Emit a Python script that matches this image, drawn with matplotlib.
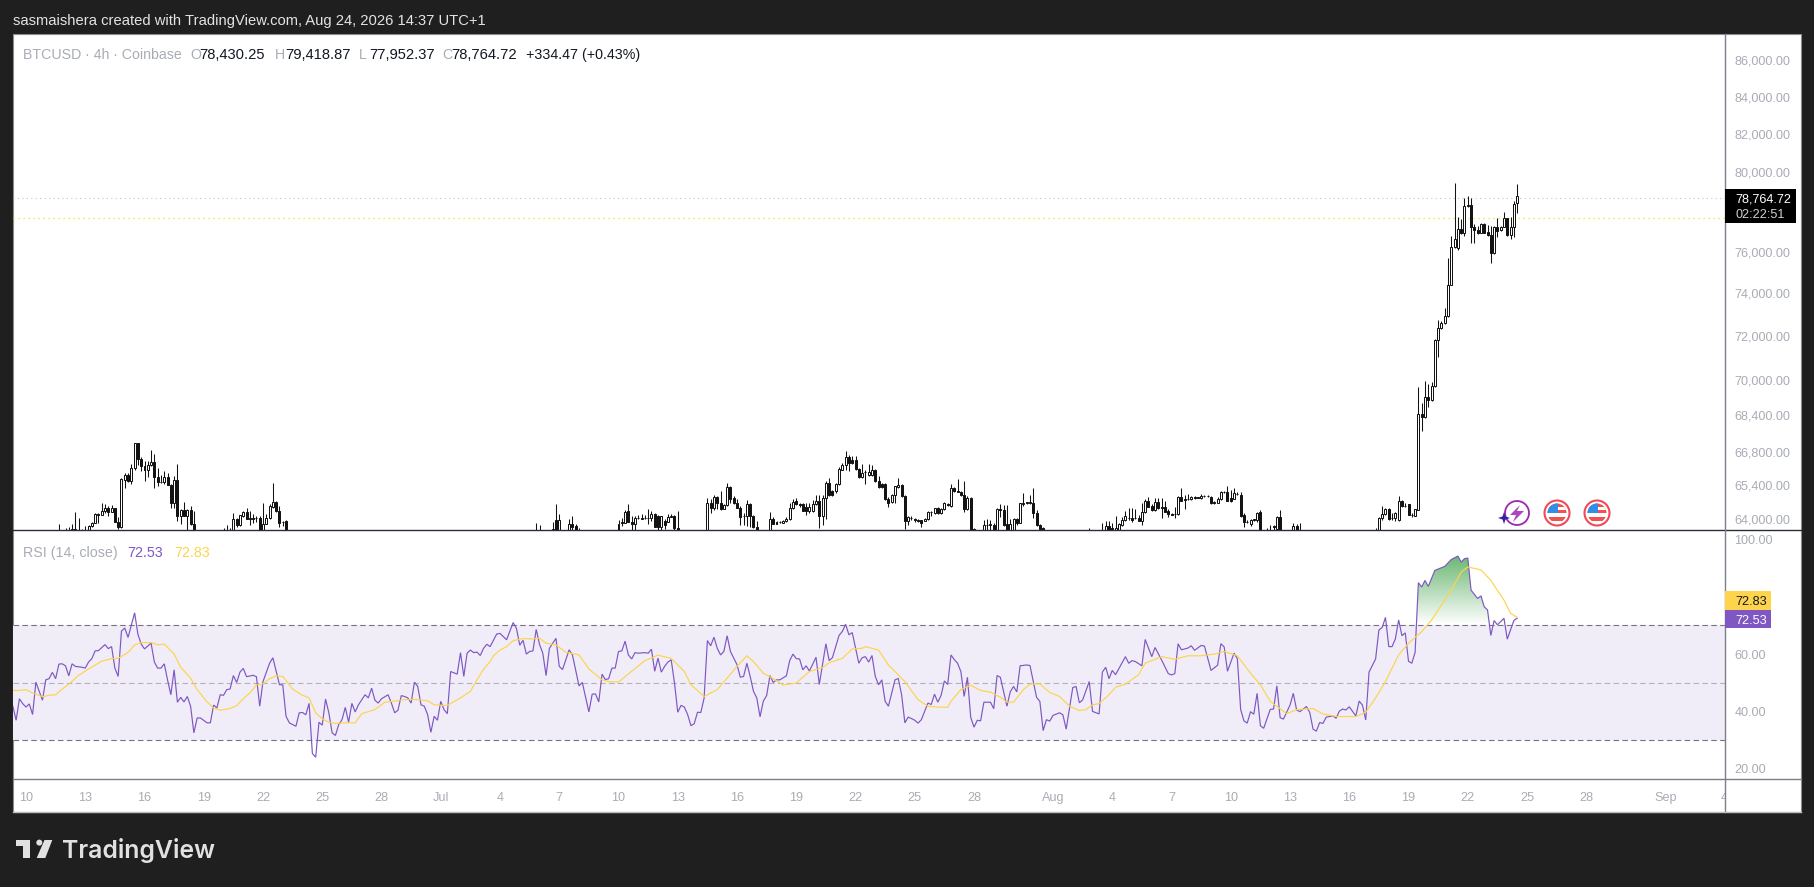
import numpy as np
import matplotlib
matplotlib.use("Agg")
import matplotlib.pyplot as plt
from matplotlib.patches import Rectangle, Circle, Polygon, PathPatch
from matplotlib.path import Path

plt.rcParams['font.family'] = ['Liberation Sans', 'DejaVu Sans']

# ---------- chart values: 4h bar number counted from 10 Jun ----------
bars = [
10,11,12,13,14,15,16,17,18,19,
20,21,22,23,24,25,26,27,28,29,
30,31,32,33,34,35,36,37,38,39,
40,41,42,43,44,45,46,47,48,49,
50,51,60,61,62,63,64,65,66,67,
68,69,70,71,72,73,74,75,76,77,
78,79,155,156,160,161,162,165,166,167,
168,180,181,182,183,184,185,186,187,188,
189,190,191,192,193,194,195,196,197,198,
207,208,209,210,211,212,213,214,215,216,
217,218,219,220,221,222,226,227,228,229,
230,231,232,233,234,235,236,237,238,239,
240,241,242,243,244,245,246,247,248,249,
250,251,252,253,254,255,256,257,258,259,
260,261,262,263,264,265,266,267,268,269,
270,271,272,273,274,275,276,277,278,279,
280,281,282,283,284,285,286,287,288,291,
292,293,294,295,296,297,298,299,300,301,
302,303,304,305,306,307,308,309,323,327,
328,329,330,331,332,333,334,335,336,337,
338,339,340,341,342,343,344,345,346,347,
348,349,350,351,352,353,354,355,356,357,
358,359,360,361,362,363,364,365,366,367,
368,369,370,371,372,373,374,375,377,378,
379,380,381,384,385,386,387,389,409,410,
411,412,413,414,415,416,417,418,419,420,
421,422,423,424,425,426,427,428,429,430,
431,432,433,434,435,436,437,438,439,440,
441,442,443,444,445,446,447,448,449,450,
451,452,453]

opens = [
63450,63450,63450,63450,63450,63578,63480,63450,63450,63450,
63676,63831,64170,64156,64325,64424,64283,64424,63860,63648,
65594,65819,65552,66116,67173,66496,66214,66017,66242,66369,
65721,65523,65523,65735,65410,64663,65622,64113,64353,64113,
64353,63789,63450,63450,63450,63450,64000,63719,64099,64268,
64000,64029,64043,64043,63420,63789,64029,64466,64677,64311,
63860,63888,63450,63450,63450,63930,63420,63450,63789,63676,
63450,63450,63831,63831,64311,63874,63775,64029,64000,64029,
64043,64029,64184,64099,63648,63888,63860,64071,64099,63620,
63450,64635,64452,64875,64635,64409,64550,65298,64847,64635,
64452,64099,64099,64593,64113,63648,63450,64000,63860,63860,
63831,63902,63986,64424,64734,64593,64593,64466,64325,64325,
64593,64734,64113,64847,65481,65129,65129,65439,66045,66242,
66595,66454,66454,66073,65721,65946,65834,65834,66045,65580,
65425,65453,64832,64691,64973,65298,65410,64945,63902,64043,
63972,63958,63930,63902,63986,64268,64212,64424,64212,64381,
64593,64522,65270,65129,65114,64973,64381,64847,63578,63450,
63747,63747,63747,63420,64381,64353,63761,63420,63450,63986,
63817,64607,64663,64635,64635,64212,63719,63606,63450,63450,
63450,63704,63620,63450,63450,63719,63930,64043,64043,64029,
64029,63902,64254,64734,64522,64353,64677,64466,64466,64325,
64170,64170,64170,64889,64832,64832,64804,64875,64875,64847,
64945,64931,64875,64663,64663,64804,65100,65086,64847,64832,
65030,64988,64127,63860,63789,63958,63930,64254,63450,63450,
63676,63578,64071,63450,63450,63704,63450,63450,63450,63450,
63450,64043,64170,64381,64029,64029,63930,64720,64522,64593,
64156,64113,64370,68444,68341,69199,69080,69707,71805,72344,
72578,72922,74393,76221,76171,77112,76912,78282,78314,77210,
77079,76945,77378,76994,76830,75927,77210,77079,77243,77662,
76830,77210,78430.25]

highs = [
63761,63549,63620,63662,63789,64254,64014,63578,63704,63731,
63860,64212,64212,64635,64607,64522,64565,64438,64071,65693,
65904,65904,66299,67173,67173,66581,66440,66440,66891,66722,
66116,65834,66003,65904,65439,65763,66299,64381,64677,64381,
64522,64311,63620,63747,63620,64212,64029,64156,64325,64452,
64325,64170,64113,64099,64635,64170,64593,65495,64734,64522,
63900,63930,63831,63747,63845,64593,64184,63972,64085,63761,
63620,63930,64029,64353,64607,64085,64099,64141,64170,64141,
64395,64325,64212,64141,64113,64000,64170,64170,64141,64311,
64847,64832,64973,64945,65157,64607,65481,65340,64917,64804,
64522,64212,64776,64635,64141,63902,64254,64071,63888,63888,
63958,64071,64635,64804,64847,64663,64635,64635,64635,64776,
64988,64988,64988,65580,65693,65199,65481,66144,66327,66849,
66680,66651,66651,66116,66299,66045,66299,66256,66073,65763,
65481,65481,64875,65002,65368,65693,65439,64973,64099,64113,
64029,63986,63958,64029,64297,64325,64452,64466,64438,64677,
64663,65439,65298,65650,65143,65580,64917,64875,63606,63930,
63972,63930,63817,64424,64593,64565,64565,64000,64014,64014,
64635,65058,64706,64988,65270,64353,63761,63648,63620,63831,
63902,63888,63831,64099,63817,64071,64325,64424,64424,64395,
64141,64635,64818,64889,64607,64847,64847,64847,64734,64381,
64212,64466,64917,65270,64988,65002,64945,64917,64903,65030,
64973,64988,64945,64720,64889,65143,65143,65368,65199,65270,
65086,65100,64212,63958,64000,64000,64268,64353,63606,63747,
63747,64099,64353,63535,63831,63761,63831,63549,63549,63620,
64071,64522,64424,64424,64212,64254,64931,64776,64663,64621,
64212,64409,69650,68931,69930,69782,69903,71830,72735,72700,
73312,75684,76780,79434,77742,77628,78700,78787,78700,77355,
77278,77420,77442,77328,77278,77278,77662,77280,77962,77700,
77742,78534,79418.87]

lows = [
63380,63380,63380,63380,63400,63400,63400,63380,63380,63400,
63648,63817,63831,64141,64212,64113,64254,63845,63564,63620,
65255,65509,65425,66045,66256,66003,65552,65735,66214,65255,
65368,65481,65439,65382,64452,64452,63902,63789,64099,63500,
63719,63350,63380,63380,63380,63400,63648,63676,64071,63986,
63719,63831,63860,63350,63350,63761,64000,64424,64283,63648,
63676,63350,63380,63380,63400,63380,63380,63400,63500,63380,
63380,63400,63676,63817,63845,63500,63500,64000,63986,64000,
63761,63888,63634,63549,63500,63578,63845,64057,63500,63380,
63400,64212,64353,64381,64353,64381,64522,64635,64607,64424,
63719,63719,63704,63648,63620,63380,63400,63761,63761,63831,
63817,63874,63958,64395,64565,64494,64297,64141,64212,64283,
64565,63606,63719,63972,64917,64945,65058,65410,66017,66045,
65975,66285,66045,65693,65693,65439,65763,65791,65523,65270,
65270,64776,64494,64635,64663,65270,64889,63578,63719,63958,
63860,63860,63648,63888,63958,64099,64184,64184,64184,64353,
64522,64494,65100,65086,64945,64283,64353,63500,63380,63400,
63500,63500,63380,63380,64071,63676,63380,63380,63400,63719,
63803,64522,64607,64607,64029,63690,63535,63380,63380,63380,
63400,63380,63380,63400,63400,63704,63902,63930,63845,63986,
63888,63719,64226,64466,64325,64325,64395,64029,64254,64071,
64127,64029,64141,64720,64395,64776,64762,64832,64847,64832,
64903,64875,64607,64621,64635,64776,65044,64720,64706,64804,
64959,64071,63648,63817,63676,63902,63860,63380,63380,63380,
63549,63500,63380,63380,63400,63380,63380,63380,63380,63380,
63400,63930,64141,63930,63958,63902,63902,64494,64466,64127,
64057,64085,64370,67713,68300,68783,69050,69680,71007,72300,
72550,72900,74380,76180,76100,76890,76796,78250,76418,76451,
76880,76920,76920,76800,75470,75900,76746,77040,77210,76790,
76615,76713,77952.37]

closes = [
63420,63420,63420,63420,63578,63450,63450,63420,63420,63704,
63831,64170,64141,64325,64424,64283,64424,63860,63648,65650,
65819,65552,66116,67173,66496,66186,66017,66242,66369,65721,
65537,65509,65735,65410,64663,65622,64113,64353,64113,64353,
63761,63400,63420,63420,63420,64000,63719,64127,64268,64000,
64010,64000,64029,63400,63789,64029,64522,64677,64311,63831,
63874,63400,63420,63420,63578,63420,63930,63789,63648,63420,
63420,63789,63845,64283,63860,63775,64029,64014,64014,64040,
64029,64184,63648,63648,64099,63719,64071,64099,63606,63420,
64635,64452,64875,64635,64409,64550,65298,64818,64635,64452,
64071,64085,64593,64099,63648,63420,64000,63789,63789,63874,
63902,64000,64424,64706,64593,64580,64325,64325,64466,64593,
64734,64113,64847,65481,64988,64988,65439,66073,66242,66595,
66327,66327,66073,65721,65904,65932,65946,66045,65552,65298,
65298,64804,64663,64973,65340,65410,64917,63902,64071,64029,
63958,63888,63831,64000,64268,64283,64424,64212,64409,64635,
64578,65270,65129,65114,64973,64381,64847,63549,63420,63747,
63733,63761,63420,64381,64353,63719,63420,63789,63986,63817,
64635,64663,64677,64706,64212,63719,63578,63420,63420,63420,
63704,63420,63420,63620,63761,63958,64085,64029,63958,64014,
63902,64254,64734,64494,64353,64677,64424,64452,64283,64170,
64156,64184,64889,64748,64776,64818,64889,64861,64861,64945,
64931,64917,64635,64677,64818,65114,65086,64748,64748,65058,
65016,64099,63860,63874,63958,63972,64240,63420,63420,63420,
63662,64071,63420,63420,63704,63420,63420,63420,63420,63420,
64043,64170,64381,63972,64014,64212,64720,64522,64508,64156,
64141,64381,68444,68341,69199,69080,69707,71805,72344,72578,
72922,74393,76221,76615,77112,76912,78282,78314,77210,77079,
76912,77378,76945,76830,75927,77210,77043,77243,77662,76830,
77210,78366,78764.72]

rsi_bars = [
-4,-3,-2,-1,0,1,2,3,5,6,7,8,9,10,11,12,13,14,15,17,
18,19,20,21,22,24,25,26,27,28,29,30,31,33,34,35,36,38,39,40,
41,42,43,44,45,46,47,48,49,50,51,52,53,55,56,57,58,59,60,61,
62,63,64,65,66,67,69,70,71,72,74,75,77,78,79,80,82,83,84,85,
86,87,88,89,90,91,92,93,94,95,96,97,98,99,100,101,103,104,105,106,
107,108,110,111,112,113,114,115,116,117,118,119,120,121,122,123,124,125,126,127,
128,129,131,132,133,134,135,136,137,138,139,140,141,143,144,146,148,149,150,151,
152,153,154,155,156,157,158,159,161,162,163,165,166,168,169,171,172,173,174,175,
176,177,178,179,180,181,182,183,184,185,186,188,189,190,191,192,193,194,195,196,
197,198,199,200,201,202,203,204,205,206,207,208,209,210,211,212,213,214,215,216,
217,218,219,220,221,222,223,224,225,226,227,228,229,231,232,233,234,235,236,237,
238,240,241,243,244,245,247,248,249,250,251,253,254,255,256,257,258,259,260,261,
262,264,265,266,267,268,269,270,271,272,273,274,275,276,277,278,279,280,281,282,
283,284,285,286,287,288,289,290,291,293,294,295,296,298,299,300,301,302,304,305,
307,308,309,310,311,312,314,315,316,318,319,320,321,323,324,326,327,328,329,330,
331,334,335,336,337,339,340,342,343,345,347,348,349,350,351,353,354,355,357,358,
360,362,363,364,365,367,368,369,370,371,372,373,374,375,376,378,379,380,381,382,
384,385,386,387,389,390,391,392,393,394,395,397,398,399,400,401,402,404,405,406,
407,408,409,410,411,412,413,414,415,416,417,418,419,420,421,422,423,424,425,426,
428,431,433,435,436,437,438,439,441,442,443,444,445,446,447,449,450,451,452,453]

rsi_values = [
41.8,36.9,44.4,42.7,41.5,42.6,38.9,50.2,43.9,51,51.4,53.6,51.4,56.5,56.6,55.9,52.4,56.6,55.7,55.4,
55.1,57.2,58.4,61.1,61.2,63.3,61.9,62.6,55.1,52.2,68,69.1,65.8,74.4,66.9,63.5,61.8,63.8,57.2,55.1,
55.1,56.6,51,45.8,54.5,43.2,44.9,43.3,45.2,41.8,32.5,37.7,37.7,36,36,42.2,41.2,45.8,45.6,47.6,
47.8,52.5,50.1,53.7,55,52.1,52.6,52.1,41.8,50.4,56.8,58.7,49.3,49.3,38.3,36,34.8,39.5,39.6,38.8,
42.8,25.3,24,36.2,35.2,44.3,39.5,32.5,31.6,35.4,37.1,41.4,36.2,42.8,39.8,42.3,45.8,44.7,48.1,43.9,
42.9,44.4,45.8,42.9,39.5,40.4,45.5,45.2,44.7,42.9,50.2,48.7,42.3,41.8,38.9,32.7,38.3,36.9,43.5,40.6,
39.2,53.9,53,60.5,52.2,60.3,61.4,60.5,60.7,59.5,62,63.4,62.6,67,67.2,65,71,68.9,63.1,64.8,
60,60.9,61.1,68.6,63.4,60.3,52.5,62,65.5,55.7,54.6,61.5,59.7,48.9,50.1,39.8,46,46.1,43.3,53,
51.1,51.4,55.1,55.1,60.9,61.1,64.5,59.7,58.3,60.5,60.3,60.5,60.3,61.7,54,58.6,53.7,55.7,57.2,58,
50,39.7,42.1,41.5,38.9,35,35.7,39.7,39.6,44.6,64.7,62.9,65.9,62,59.7,60.9,66.4,60.9,58.6,56.3,
51.9,52.2,56.8,52.2,47,44.7,38.1,43.6,45.5,52.5,50.1,51,51,52.4,57.7,60,58.4,58.3,54.5,55.9,
54.1,58.9,49.4,63.6,57.7,58.8,66.5,67.9,70.4,66.7,67.5,56.8,58.7,59.1,57.2,59.5,52.2,49.3,51,43.5,
41.8,51,51.5,45.8,36,38,37.5,36.9,35.9,37.1,40,42.9,42.4,46,43.2,45.6,50.6,49.4,59.7,58.1,
56.8,53.9,45.2,51.9,37.9,34.5,36.9,36.7,43.2,43.2,40.9,52.5,51.9,41.8,46.8,48.7,46.8,55.9,56.2,56,
44.9,43.5,33.3,37.1,36.6,38.6,39.5,38.8,33.8,48.3,48.7,43,44,50.4,40,39.1,53.7,55.4,51.4,54.3,
52.8,59.1,56.8,57.7,57.4,55.9,65.1,59.1,62.3,57.9,53.2,52.7,53.2,63.6,61.5,62.1,62.9,61.3,63,62.8,
54.3,56.1,63.6,62.5,54,60.3,58.4,40.7,36.7,35.9,39.9,39,46.3,35,34.1,40.7,40.8,48.9,37.8,37.3,
42.2,46.3,40.5,39.9,41.7,39.6,33.8,33.1,36.1,35.8,38,38.4,37.6,40.1,40.8,40.5,41.6,38.4,43.6,42.2,
37,53.7,56,58.3,68.4,69.3,72.8,62.6,62.6,65.3,71.9,66.4,67.4,57.5,56.8,60.6,84.9,83.4,85.7,83.6,
89.2,90.6,93,94.2,92.1,93.3,93.5,82.3,79.4,80.3,76.5,75.4,66.5,71.7,70.2,72.5,65.2,68.5,71.7,72.53]

ma_bars = [
-4,-2,0,2,3,5,7,9,11,13,16,17,19,23,26,28,31,33,35,38,
40,42,45,47,50,52,55,57,59,62,64,66,68,70,72,74,76,78,81,84,
86,88,90,92,94,97,100,102,106,109,112,115,119,122,124,126,128,132,135,137,
139,141,142,144,146,148,151,154,156,158,161,164,168,171,175,177,180,183,188,192,
196,200,202,206,210,213,216,219,221,224,227,230,234,238,242,244,248,251,254,255,
259,262,267,271,274,277,280,281,284,287,290,293,296,298,300,303,305,308,311,314,
317,320,322,324,326,329,331,334,338,340,345,349,353,357,361,364,368,372,375,378,
383,386,391,394,398,404,407,410,413,417,420,424,427,430,433,436,438,442,445,449,
451,453]

ma_values = [
47.3,47.3,47.6,46.4,46,45.1,45.6,45.8,47.8,49.5,52.6,53.3,54.8,57.5,58.4,58.5,60.6,63.2,64,64,
63.2,63.5,60,55.4,51.6,47.6,43.3,41.2,40.4,41,42,44.4,46.4,49.2,49.6,51.4,52.4,52.2,47.8,45.6,
44.7,39.5,37.4,36.2,35.8,36,36,39.2,40.6,43.2,43.6,44.1,44.1,43.7,42.3,42.1,42.1,44.7,47,51,
54.7,57.4,59.4,61.4,62.6,64.7,65.4,65.3,65.5,63.8,63.2,60.6,59.7,54.8,51,50.4,50.2,53.1,57.7,59.6,
58.5,53.9,49.3,45.2,47.6,51.6,55.7,59.4,57.4,53.3,51.4,49.2,49.9,53.9,55.3,57,58.5,61.8,62,62.6,
61.4,56.2,50.4,44.1,41.8,41.5,41.4,43.5,47.6,49.1,47.3,46.7,45,43.2,43.2,47.6,49.5,49.6,46.6,45.2,
41.8,40.3,40.6,42.3,42.7,45.8,48.4,49.5,52.8,56.8,59.1,58.2,59.4,59.4,60,60.9,59.4,53.3,49.3,43.5,
39.2,40.6,41,39.1,38.2,38.2,39.7,44.7,50.4,59.7,63.8,67.8,71.9,77.1,82.3,88.6,90.4,89.4,85.7,78.8,
74.2,72.83]

price_ticks = [86000, 84000, 82000, 80000, 76000, 74000, 72000, 70000, 68400, 66800, 65400, 64000]
price_labels = ['86,000.00', '84,000.00', '82,000.00', '80,000.00', '76,000.00', '74,000.00',
                '72,000.00', '70,000.00', '68,400.00', '66,800.00', '65,400.00', '64,000.00']
rsi_ticks = [100, 60, 40, 20]
rsi_labels = ['100.00', '60.00', '40.00', '20.00']
time_ticks = [0, 18, 36, 54, 72, 90, 108, 126, 144, 162, 180, 198, 216, 234, 252, 270, 288,
              312, 330, 348, 366, 384, 402, 420, 438, 456, 474, 498, 516]
time_labels = ['10', '13', '16', '19', '22', '25', '28', 'Jul', '4', '7', '10', '13', '16', '19', '22',
               '25', '28', 'Aug', '4', '7', '10', '13', '16', '19', '22', '25', '28', 'Sep', '4']
last_line_price = 78670
second_line_price = 77662

# ---------- layout (pixels) ----------
W, H = 1814, 887
L_, R_, AX_R = 13, 1724.5, 1801
T_, P_B, R_B, B_ = 34, 530, 779, 812
BG = '#1f1f1f'
TXT = '#a9acb5'
PURPLE, YELLOW = '#7E57C2', '#FDD44B'


def rect(l, t, r, b):
    return [l / W, 1 - b / H, (r - l) / W, (b - t) / H]


fig = plt.figure(figsize=((W + 0.01) / 100, (H + 0.01) / 100), dpi=100, facecolor=BG)
fig.add_artist(Rectangle((L_ / W, 1 - B_ / H), (AX_R - L_) / W, (B_ - T_) / H, transform=fig.transFigure,
                         facecolor='white', edgecolor='#8c8c8c', lw=0.8, zorder=-5))

xlim = ((L_ - 26) / 3.2917, (AX_R - 76.5 - 26) / 3.2917)

# price pane
ax = fig.add_axes(rect(L_, T_, AX_R - 76.5, P_B), facecolor='none')
ax.set_yscale('log')
ax.set_xlim(*xlim)
ax.set_ylim(63530, 87460)
ax.axhline(last_line_price, color='#c4c4c4', lw=0.8, ls=(0, (1, 3)), zorder=1)
ax.axhline(second_line_price, color='#f5df1e', lw=0.9, ls=(0, (1, 3)), zorder=1)
o, h, l, c = map(np.array, (opens, highs, lows, closes))
b = np.array(bars)
ax.vlines(b, l, h, color='#131313', lw=0.75, zorder=2)
up = c >= o
ax.bar(b[up], np.maximum(c[up] - o[up], 1), bottom=o[up], width=0.6, facecolor='white',
       edgecolor='#131313', linewidth=0.72, zorder=3)
ax.bar(b[~up], np.maximum(o[~up] - c[~up], 1), bottom=c[~up], width=0.6, facecolor='#131313',
       edgecolor='#131313', linewidth=0.72, zorder=3)
ax.yaxis.tick_right()
ax.set_yticks(price_ticks)
ax.set_yticklabels(price_labels)
ax.set_yticks([], minor=True)
ax.set_xticks([])
ax.tick_params(axis='y', length=0, pad=7, labelsize=9.1, labelcolor=TXT)
for s in ax.spines.values():
    s.set_visible(False)

# RSI pane
ar = fig.add_axes(rect(L_, P_B, AX_R - 76.5, R_B), facecolor='none')
ar.set_xlim(*xlim)
ar.set_ylim(16.4, 103.3)
ar.axhspan(30, 70, color='#f0edf8', lw=0, zorder=0)
for lev, col in ((70, '#77747f'), (50, '#b4b1ba'), (30, '#77747f')):
    ar.axhline(lev, color=col, lw=0.8, ls=(0, (5, 3)), zorder=1)
# green gradient above the 70 line, below the RSI line
grid = np.arange(rsi_bars[0], rsi_bars[-1] + 0.25, 0.25)
top = np.maximum(np.interp(grid, rsi_bars, rsi_values), 70)
verts = np.column_stack([np.r_[grid[0], grid, grid[-1]], np.r_[70, top, 70]])
grad = np.zeros((64, 2, 4))
grad[..., 0], grad[..., 1], grad[..., 2] = 0.30, 0.66, 0.33
grad[..., 3] = np.linspace(0, 0.9, 64)[:, None]
im = ar.imshow(grad, extent=(rsi_bars[0], rsi_bars[-1], 70, 96), origin='lower', aspect='auto', zorder=1.5,
               interpolation='bilinear')
clip = PathPatch(Path(verts), transform=ar.transData, facecolor='none', edgecolor='none')
ar.add_patch(clip)
im.set_clip_path(clip)
ar.set_xlim(*xlim)
ar.set_ylim(16.4, 103.3)
ar.plot(rsi_bars, rsi_values, color=PURPLE, lw=0.85, zorder=3, solid_joinstyle='miter')
ar.plot(ma_bars, ma_values, color=YELLOW, lw=0.85, zorder=4)
ar.yaxis.tick_right()
ar.set_yticks(rsi_ticks)
ar.set_yticklabels(rsi_labels)
ar.set_xticks([])
ar.tick_params(axis='y', length=0, pad=7, labelsize=9.1, labelcolor=TXT)
for s in ar.spines.values():
    s.set_visible(False)

# time axis
at = fig.add_axes(rect(L_, R_B, AX_R - 76.5, B_), facecolor='none')
at.set_xlim(*xlim)
at.set_yticks([])
at.set_xticks(time_ticks)
at.set_xticklabels(time_labels)
at.tick_params(axis='x', length=0, pad=-14.5, labelsize=9.1, labelcolor=TXT)
at.xaxis.set_ticks_position('bottom')
for lab in at.get_xticklabels():
    lab.set_clip_box(at.bbox)
    lab.set_clip_on(True)
for s in at.spines.values():
    s.set_visible(False)

# ---------- interface overlay in pixel coordinates ----------
ui = fig.add_axes([0, 0, 1, 1], facecolor='none', zorder=10)
ui.set_xlim(0, W)
ui.set_ylim(H, 0)
ui.axis('off')
ui.plot([L_, AX_R], [P_B, P_B], color='#2a2e39', lw=1.0)
ui.plot([L_, AX_R], [R_B, R_B], color='#7d7f88', lw=1.0)
ui.plot([1724.5, 1724.5], [T_, B_], color='#7d7f88', lw=1.0)
ui.plot([L_, AX_R], [B_, B_], color='#bdbdbd', lw=1.0)

ui.text(13, 21, 'sasmaishera created with TradingView.com, Aug 24, 2026 14:37 UTC+1', color='#e4e4e4',
        fontsize=10.65, va='center')
ui.text(23, 54.5, 'BTCUSD · 4h · Coinbase', color=TXT, fontsize=10.2, va='center')
for lx, vx, lab, val in ((190, 199.5, 'O', '78,430.25'), (275, 285, 'H', '79,418.87'),
                         (359, 369, 'L', '77,952.37'), (442, 451, 'C', '78,764.72')):
    ui.text(lx, 54.5, lab, color=TXT, fontsize=10.2, va='center')
    ui.text(vx, 54.5, val, color='#131722', fontsize=10.6, va='center')
ui.text(526, 54.5, '+334.47 (+0.43%)', color='#131722', fontsize=10.3, va='center')

ui.text(23, 553, 'RSI (14, close)', color=TXT, fontsize=10.3, va='center')
ui.text(127.7, 553, '72.53', color=PURPLE, fontsize=10.3, va='center')
ui.text(174, 553, '72.83', color=YELLOW, fontsize=10.3, va='center')

# last price tag
ui.add_patch(Rectangle((1725, 189), 71, 34, facecolor='#000000', edgecolor='none', zorder=5))
ui.text(1735, 199.5, '78,764.72', color='white', fontsize=9.1, va='center', zorder=6)
ui.text(1735, 214.5, '02:22:51', color='#cfcfcf', fontsize=9.1, va='center', zorder=6)
# RSI tags
ui.add_patch(Rectangle((1725, 591), 46, 19, facecolor=YELLOW, edgecolor='none', zorder=5))
ui.add_patch(Rectangle((1725, 610), 46, 18, facecolor=PURPLE, edgecolor='none', zorder=5))
ui.text(1735, 602, '72.83', color='#131722', fontsize=9.1, va='center', zorder=6)
ui.text(1735, 620.5, '72.53', color='white', fontsize=9.1, va='center', zorder=6)

# event icons
ui.add_patch(Circle((1517, 513), 12, facecolor='white', edgecolor='#9c27b0', lw=1.3))
ui.add_patch(Polygon([(1520, 505), (1510, 515), (1516, 515), (1513, 522), (1524, 511), (1517, 511)],
                     closed=True, facecolor='#ab47bc', edgecolor='none'))
sx, sy = 1504, 518
ui.add_patch(Polygon([(sx - 6, sy), (sx - 1.5, sy - 1.5), (sx, sy - 6), (sx + 1.5, sy - 1.5), (sx + 6, sy),
                      (sx + 1.5, sy + 1.5), (sx, sy + 6), (sx - 1.5, sy + 1.5)],
                     closed=True, facecolor='#3b1fa3', edgecolor='none', zorder=4))
for cx in (1557, 1597):
    disc = Circle((cx, 513), 12.5, facecolor='white', edgecolor='#f04a56', lw=1.5, zorder=3)
    ui.add_patch(disc)
    inner = Circle((cx, 513), 9.5, transform=ui.transData)
    ar1 = Rectangle((cx - 10, 503), 20, 10, facecolor='#ef5350', edgecolor='none', zorder=3.2)
    ar2 = Rectangle((cx - 10, 517), 20, 4, facecolor='#ef5350', edgecolor='none', zorder=3.2)
    ar3 = Rectangle((cx - 10, 503), 11, 10, facecolor='#2f8fe8', edgecolor='none', zorder=3.4)
    ar4 = Rectangle((cx + 1, 507), 10, 3, facecolor='white', edgecolor='none', zorder=3.3)
    for p in (ar1, ar2, ar3, ar4):
        ui.add_patch(p)
        p.set_clip_path(inner)

# TradingView logo
LOGO = '#e1e1e1'
ui.add_patch(Polygon([(15.7, 840), (30, 840), (30, 858), (23, 858), (23, 846.5), (15.7, 846.5)], closed=True,
                     facecolor=LOGO, edgecolor='none'))
ui.add_patch(Circle((39.3, 842.6), 3, facecolor=LOGO, edgecolor='none'))
ui.add_patch(Polygon([(44.5, 840), (52.3, 840), (45.3, 858), (36.7, 858)], closed=True, facecolor=LOGO,
                     edgecolor='none'))
ui.text(62, 858, 'TradingView', color=LOGO, fontsize=17.9, fontweight='semibold', family=['Inter', 'DejaVu Sans'],
        va='baseline')

fig.savefig('out.png', dpi=100, facecolor=BG)
